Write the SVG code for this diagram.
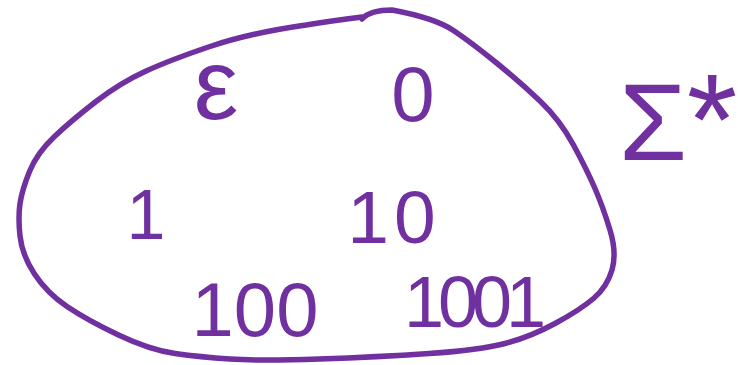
<svg xmlns="http://www.w3.org/2000/svg" width="738" height="365" viewBox="0 0 738 365">
<style>
.blob{fill:none;stroke:#7030a0;stroke-width:5.5;stroke-linecap:round;stroke-linejoin:round}
.t{fill:#7030a0;font-family:"Liberation Sans",Arial,sans-serif;text-anchor:middle}
</style>
<rect width="738" height="365" fill="#ffffff"/>
<path class="blob" d="M362,19 Q370,10 392,10 Q435,18 453.5,30.5 Q472,43 496,62.5 Q520,82 540,101 Q560,120 573.5,145 Q587,170 595,188.5 Q603,207 610,230 Q617,253 612,270 Q607,287 593.5,298.5 Q580,310 555,323.5 Q530,337 505,343.5 Q480,350 429,353.5 Q378,357 319,359 Q260,361 230,359 Q200,357 175,353.5 Q150,350 118.5,335 Q87,320 67,306.5 Q47,293 34.5,274 Q22,255 20,236 Q18,217 20,203.5 Q22,190 29.5,171.5 Q37,153 54.5,136.5 Q72,120 96,101.5 Q120,83 145,71.5 Q170,60 210,46.5 Q250,33 306,25 Q330,21 362,17"/>
<g id="epsilon"><text class="t" x="216" y="119" font-size="100">ε</text></g>
<g id="s0"><text class="t" x="413" y="121" font-size="78">0</text></g>
<g id="s1"><text class="t" x="146" y="239" font-size="70">1</text></g>
<g id="s10"><text class="t" x="394" y="243" font-size="75" letter-spacing="5">10</text></g>
<g id="s100"><text class="t" x="255" y="336" font-size="76">100</text></g>
<g id="s1001"><text class="t" x="472" y="327" font-size="72" letter-spacing="-6">1001</text></g>
<g id="sigma"><text class="t" x="653" y="160" font-size="110">Σ</text><text class="t" x="712" y="165" font-size="130">*</text></g>
</svg>
